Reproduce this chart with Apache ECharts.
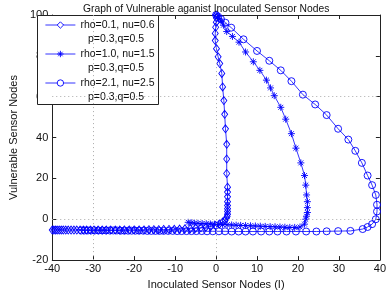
<!DOCTYPE html>
<html><head><meta charset="utf-8">
<script src="https://cdn.jsdelivr.net/npm/echarts@6/dist/echarts.min.js"></script>
<style>html,body{margin:0;padding:0;background:#fff}#c{width:389px;height:295px}</style>
</head><body><div id="c"></div>
<script>
const titleText = 'Graph of Vulnerable aganist Inoculated Sensor Nodes';
const xName = 'Inoculated Sensor Nodes (I)';
const yName = 'Vulnerable Sensor Nodes';
const seriesNames = ['rho=0.1, nu=0.6', 'rho=1.0, nu=1.5', 'rho=2.1, nu=2.5'];
const subLabel = 'p=0.3,q=0.5';

const diamondPts = [[0,100],[0.1,98.5],[0.05,96.5],[-0.1,94],[-0.2,91],[-0.2,87.5],[0.1,83.5],[0.5,79.5],[0.9,76.2],[1.4,71.4],[1.6,64.8],[1.9,58.1],[2.1,51.4],[2.3,44.3],[2.6,36.7],[2.6,29.5],[2.6,22.4],[2.8,15.7],[2.8,13.3],[2.8,11],[2.8,8.6],[2.8,6.7],[2.8,5.2],[2.8,3.8],[2.8,2.4],[2.7,1.4],[2.5,0.5],[2.2,-0.5],[1.6,-1.4],[0.8,-2.3],[-0.2,-3],[-1.3,-3.5],[-2.5,-3.9],[-3.7,-4.2],[-5,-4.4],[-6.3,-4.6],[-7.6,-4.7],[-8.9,-4.8],[-10.2,-4.9],[-11.5,-5],[-12.8,-5],[-14,-5.1],[-15.2,-5.1],[-16.4,-5.1],[-17.6,-5.2],[-18.8,-5.2],[-20,-5.2],[-21.2,-5.2],[-22.4,-5.2],[-23.5,-5.3],[-24.6,-5.3],[-25.7,-5.3],[-26.8,-5.3],[-27.8,-5.3],[-28.8,-5.3],[-29.8,-5.3],[-30.7,-5.3],[-31.6,-5.3],[-32.4,-5.3],[-33.2,-5.3],[-34,-5.3],[-34.7,-5.3],[-35.4,-5.3],[-36.1,-5.3],[-36.7,-5.3],[-37.3,-5.3],[-37.8,-5.3],[-38.3,-5.3],[-38.8,-5.3],[-39.2,-5.3],[-39.6,-5.3],[-40,-5.3]];

const starPts = [[0,100],[0.3,99.3],[0.7,98.3],[1.2,97],[1.8,95],[2.6,91.9],[4,89.5],[5.6,86.7],[7.2,81.9],[9.1,77.1],[10.7,72.9],[12.3,68.1],[13.3,64.3],[14.2,60.5],[15.8,54.8],[17,49],[18.4,41.9],[19.5,34.8],[20.7,27.6],[21.6,21.4],[21.9,16.7],[22.1,11.9],[22.3,8.6],[22.3,5.7],[22.3,3.3],[22.1,1.5],[21.9,0],[21.6,-2.4],[20.5,-3.8],[19.2,-4],[18,-4],[16.8,-3.9],[15.6,-3.8],[14.4,-3.7],[13.2,-3.6],[12,-3.5],[10.8,-3.4],[9.6,-3.3],[8.4,-3.2],[7.2,-3.1],[6,-3],[4.9,-2.9],[3.8,-2.8],[2.7,-2.7],[1.6,-2.6],[0.6,-2.5],[-0.4,-2.4],[-1.4,-2.3],[-2.4,-2.2],[-3.4,-2.1],[-4.4,-2],[-5.3,-1.9],[-6.1,-1.7],[-6.8,-1.5]];

const circlePts = [[0,100],[0.5,99.2],[1.2,98],[2.3,96.2],[3.7,93.8],[6.7,88.1],[10,82.4],[13,77.6],[15.8,72.9],[18.4,67.6],[21.2,61],[24.2,56.2],[27,51],[29.8,44.3],[32.3,39],[34,33.5],[35.6,27.6],[37,21.4],[38.1,16.7],[39,11.9],[39.3,7.1],[39.3,3.8],[39,0],[38.1,-2.4],[37,-3.8],[35.8,-4.8],[32.8,-5.7],[29.8,-5.8],[27,-5.9],[24.5,-6],[22,-6],[19.5,-6],[17.2,-6],[15,-6],[13,-6],[11,-6],[9,-6],[7.2,-6],[5.5,-6],[3.8,-6],[2.2,-5.9],[0.7,-5.9],[-0.8,-5.9],[-2.2,-5.9],[-3.5,-5.8],[-4.8,-5.8],[-6,-5.8],[-7.2,-5.8],[-8.4,-5.8],[-9.5,-5.8],[-10.6,-5.7],[-11.7,-5.7],[-12.8,-5.7],[-13.8,-5.7],[-14.8,-5.7],[-15.8,-5.7],[-16.8,-5.7],[-17.8,-5.6],[-18.8,-5.6],[-19.7,-5.6],[-20.6,-5.6],[-21.5,-5.6],[-22.4,-5.6],[-23.3,-5.6],[-24.2,-5.5],[-25.1,-5.5],[-26,-5.5],[-26.9,-5.5],[-27.8,-5.5],[-28.7,-5.5],[-29.6,-5.5],[-30.5,-5.5],[-31.3,-5.5],[-32.1,-5.5],[-32.9,-5.5]];

const gridX = [-30, 0];
const gridY = [0, 60];

const FONT = 'Liberation Sans, Arial, sans-serif';
const BLUE = '#0000ff';
const chart = echarts.init(document.getElementById('c'), null, {renderer:'canvas'});

function mkSeries(name, data, symbol, size) {
  return {
    name, type:'line', data, symbol, symbolSize:size, showAllSymbol:true, z:2,
    lineStyle:{color:BLUE, width:0.8},
    itemStyle:{color:'rgba(0,0,0,0)', borderColor:BLUE, borderWidth:0.9},
    emphasis:{disabled:true}, animation:false
  };
}
const starPath = 'path://M5,0L5,10M0,5L10,5M1.5,1.5L8.5,8.5M1.5,8.5L8.5,1.5';

const ml = [];
gridX.forEach(v => ml.push([{coord:[v,-20]},{coord:[v,100]}]));
gridY.forEach(v => ml.push([{coord:[-40,v]},{coord:[40,v]}]));

const s1 = mkSeries(seriesNames[0], diamondPts, 'diamond', [6,8]);
s1.markLine = {silent:true, symbol:'none', label:{show:false}, animation:false,
  lineStyle:{color:'#aaa', type:[1,3], width:1}, data: ml};
const s2 = mkSeries(seriesNames[1], starPts, starPath, 7);
const s3 = mkSeries(seriesNames[2], circlePts, 'circle', 7);

const axisCommon = {
  type:'value', splitLine:{show:false},
  axisLine:{onZero:false, lineStyle:{color:'#222', width:1}},
  axisTick:{inside:true, length:4, lineStyle:{color:'#222'}},
};

chart.setOption({
  backgroundColor:'#fff',
  animation:false,
  textStyle:{fontFamily:FONT},
  title:{text:titleText, left:78, top:-1, z:6, textStyle:{fontSize:10.3, fontWeight:'normal', color:'#111', fontFamily:FONT}},
  grid:{left:37, right:8, top:15, bottom:28, containLabel:false},
  legend:{
    orient:'vertical', left:40, top:13, itemWidth:30, itemHeight:8, itemGap:15, z:8,
    textStyle:{fontSize:10.5, color:'#111', fontFamily:FONT, lineHeight:14},
    itemStyle:{color:'#fff', borderColor:BLUE, borderWidth:0.9},
    lineStyle:{color:BLUE, width:0.8},
    data: seriesNames, selectedMode:false
  },
  graphic:[
    {type:'rect', left:37, top:15, shape:{width:121, height:89}, style:{fill:'#fff', stroke:'#222', lineWidth:1}, z:3},
    {type:'text', x:116, y:39, style:{text:subLabel, textAlign:'center', textVerticalAlign:'middle', fontSize:10.5, fontFamily:FONT, fill:'#111'}, z:4},
    {type:'text', x:116, y:68, style:{text:subLabel, textAlign:'center', textVerticalAlign:'middle', fontSize:10.5, fontFamily:FONT, fill:'#111'}, z:4},
    {type:'text', x:116, y:97, style:{text:subLabel, textAlign:'center', textVerticalAlign:'middle', fontSize:10.5, fontFamily:FONT, fill:'#111'}, z:4}
  ],
  xAxis:[
    Object.assign({}, axisCommon, {min:-40, max:40, interval:10, position:'bottom',
      axisLabel:{fontSize:11, color:'#111', margin:3, fontFamily:FONT},
      name:xName, nameLocation:'middle', nameGap:15, nameTextStyle:{fontSize:11, color:'#111', fontFamily:FONT}}),
    Object.assign({}, axisCommon, {min:-40, max:40, interval:10, position:'top', axisLabel:{show:false}})
  ],
  yAxis:[
    Object.assign({}, axisCommon, {min:-20, max:100, interval:20, position:'left',
      axisLabel:{fontSize:11, color:'#111', margin:4, fontFamily:FONT},
      name:yName, nameLocation:'middle', nameGap:32, nameTextStyle:{fontSize:11, color:'#111', fontFamily:FONT}}),
    Object.assign({}, axisCommon, {min:-20, max:100, interval:20, position:'right', axisLabel:{show:false}})
  ],
  series:[s1, s2, s3]
});
</script></body></html>
